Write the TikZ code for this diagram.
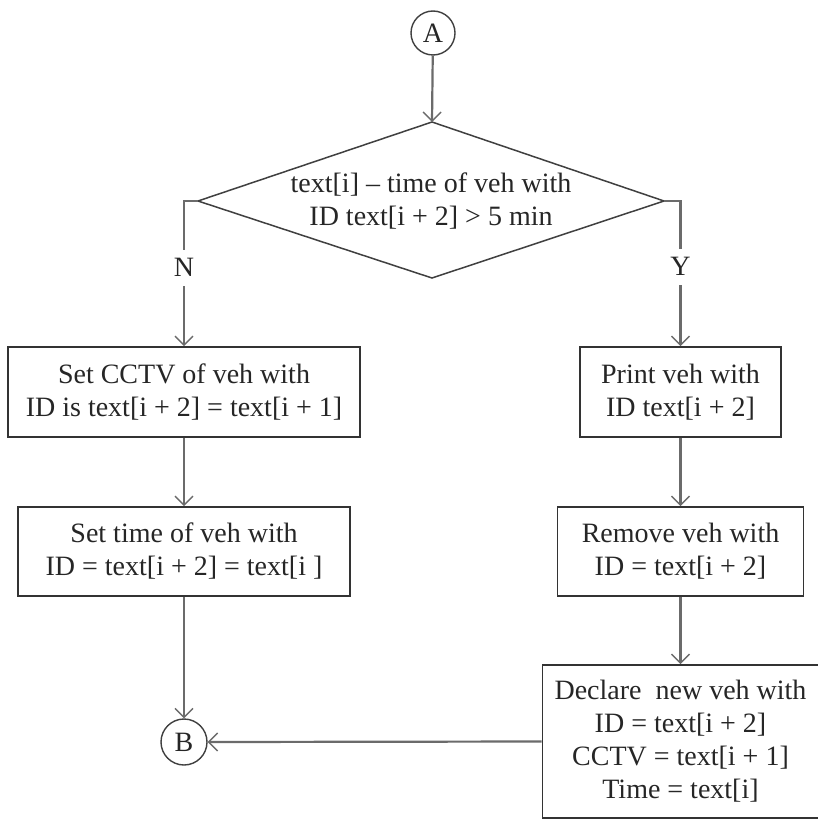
\documentclass[tikz,border=0pt]{standalone}
\usepackage{fontspec}
\setmainfont{Liberation Serif}
\usetikzlibrary{arrows.meta}
\begin{document}
\begin{tikzpicture}[x=1pt,y=-1pt,
  every node/.style={font=\fontsize{28}{33}\selectfont, text=black!85},
  procbox/.style={rectangle, draw=black!80, line width=1.6pt, align=center, inner sep=0pt},
  connector/.style={circle, draw=black!75, line width=1.4pt, minimum size=44pt, inner sep=0pt},
  decision/.style={draw=black!75, line width=1.5pt, line join=miter},
  flow/.style={draw=black!58, line width=2.2pt,
    -{Straight Barb[length=9pt,width=18pt,line width=1.4pt]}},
  branch/.style={fill=white, inner sep=0pt, minimum height=36pt, minimum width=22pt}]
\useasboundingbox (0,0) rectangle (818,821);
\fill[white] (0,0) rectangle (818,821);

% entry connector
\node[connector] (A) at (433,33) {A};

% decision diamond
\coordinate (dtop) at (432,122);
\coordinate (dleft) at (198,201);
\coordinate (dright) at (664,201);
\coordinate (dbot) at (432,278);
\draw[decision] (dtop) -- (dright) -- (dbot) -- (dleft) -- cycle;
\node[align=center] (cond) at (431,201) {text[i] – time of veh with\\ID text[i + 2] > 5 min};

% N branch
\node[procbox, minimum width=352pt, minimum height=90pt] (setcctv) at (184,392)
  {Set CCTV of veh with\\ID is text[i + 2] = text[i + 1]};
\node[procbox, minimum width=332pt, minimum height=89pt] (settime) at (184,551.5)
  {Set time of veh with\\ID = text[i + 2] = text[i ]};

% Y branch
\node[procbox, minimum width=201pt, minimum height=90pt] (print) at (680.5,392)
  {Print veh with\\ID text[i + 2]};
\node[procbox, minimum width=246pt, minimum height=89pt] (remove) at (680.5,551.5)
  {Remove veh with\\ID = text[i + 2]};
\node[procbox, minimum width=276pt, minimum height=153pt] (declare) at (680.5,741.5)
  {Declare\ \ new veh with\\ID = text[i + 2]\\CCTV = text[i + 1]\\Time = text[i]};

% exit connector
\node[connector, minimum size=46pt] (B) at (184,742) {B};

% connectors
\draw[flow] (A) -- (dtop);
\draw[flow] (dleft) -| node[branch, pos=0.73] (nlab) {N} (setcctv.north);
\draw[flow] (dright) -| node[branch, pos=0.726] (ylab) {Y} (print.north);
\draw[flow] (setcctv) -- (settime);
\draw[flow] (settime) -- (B);
\draw[flow] (print) -- (remove);
\draw[flow] (remove) -- (declare);
\draw[flow] (declare.west) -- (B.east);
\end{tikzpicture}
\end{document}
